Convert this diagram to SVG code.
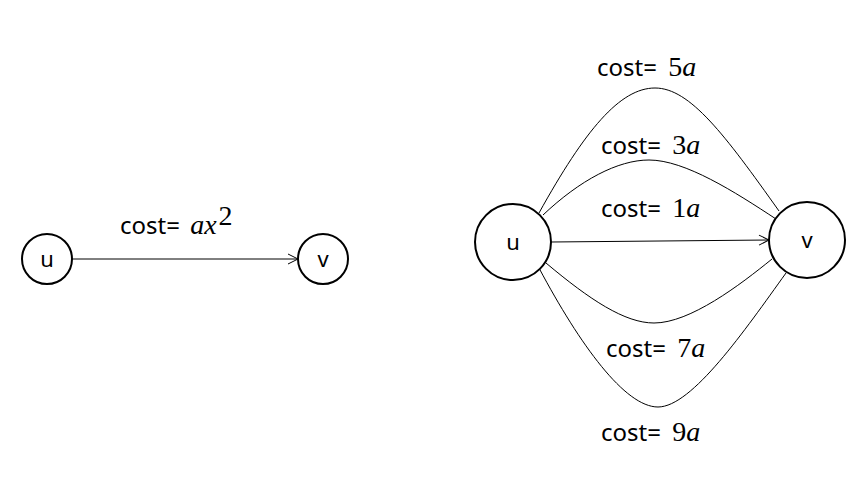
<svg xmlns="http://www.w3.org/2000/svg" width="868" height="491" viewBox="0 0 868 491">
<style>
.node{fill:#fff;stroke:#000;stroke-width:2}
.edge{fill:none;stroke:#000;stroke-width:1}
.lbl{font-family:"Noto Sans","Liberation Sans",sans-serif;font-size:24px;fill:#000}
.m{font-family:"Liberation Serif",serif;font-size:28px}
.mi{font-style:italic}
.nl{font-family:"Noto Sans","Liberation Sans",sans-serif;font-size:22px;text-anchor:middle;fill:#000}
</style>
<defs>
<marker id="arr" viewBox="0 0 12 12" refX="11" refY="6" markerWidth="12" markerHeight="12" markerUnits="userSpaceOnUse" orient="auto">
<path d="M1,1 L11,6 L1,11" fill="none" stroke="#000" stroke-width="1"/>
</marker>
</defs>
<g id="connectors">
<line class="edge" x1="72" y1="259" x2="298" y2="259" marker-end="url(#arr)"/>
<line class="edge" x1="551" y1="242" x2="769" y2="240" marker-end="url(#arr)"/>
<path class="edge" d="M539,213 C585,130 620,88 655,88 C690,88 725,135 779,211"/>
<path class="edge" d="M543,215 C580,180 618,160 649,160 C685,160 735,192 776,219"/>
<path class="edge" d="M546,263 C590,300 625,323 654,323 C690,323 740,285 772,259"/>
<path class="edge" d="M539,268 C580,345 625,407 658,407 C692,407 745,330 786,273"/>
</g>
<g id="node-u1"><circle class="node" cx="47" cy="259" r="25"/><text class="nl" x="47" y="267">u</text></g>
<g id="node-v1"><circle class="node" cx="323" cy="259" r="25"/><text class="nl" x="323" y="267">v</text></g>
<g id="node-u2"><circle class="node" cx="513" cy="242" r="38"/><text class="nl" x="513" y="250">u</text></g>
<g id="node-v2"><circle class="node" cx="807" cy="240" r="38"/><text class="nl" x="807" y="248">v</text></g>
<g id="labels">
<text class="lbl" x="120" y="234">cost= <tspan class="m mi" dx="4">ax</tspan><tspan class="m" font-size="17" dx="2" dy="-9">2</tspan></text>
<text class="lbl" x="597" y="76">cost= <tspan class="m" dx="5">5</tspan><tspan class="m mi">a</tspan></text>
<text class="lbl" x="601" y="154">cost= <tspan class="m" dx="5">3</tspan><tspan class="m mi">a</tspan></text>
<text class="lbl" x="601" y="217">cost= <tspan class="m" dx="5">1</tspan><tspan class="m mi">a</tspan></text>
<text class="lbl" x="606" y="357">cost= <tspan class="m" dx="5">7</tspan><tspan class="m mi">a</tspan></text>
<text class="lbl" x="601" y="441">cost= <tspan class="m" dx="5">9</tspan><tspan class="m mi">a</tspan></text>
</g>
</svg>
